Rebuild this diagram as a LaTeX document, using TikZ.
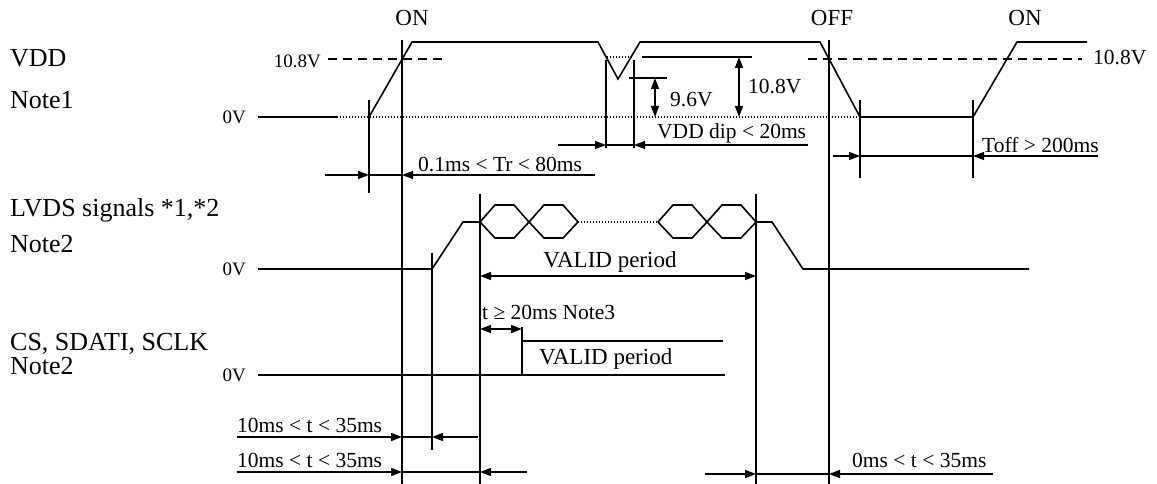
\documentclass[tikz,border=0pt]{standalone}
\usepackage{fontspec}
\setmainfont{Liberation Serif}
\usetikzlibrary{arrows.meta}
\tikzset{
  wave/.style={line width=1.6pt, line join=miter},
  mark line/.style={line width=1.5pt},
  dimtip/.style={line width=1.5pt, -{Triangle[length=11pt,width=8pt]}},
  ddim/.style={line width=1.5pt, {Triangle[length=11pt,width=8pt]}-{Triangle[length=11pt,width=8pt]}},
  lvl/.style={line width=1.3pt, dash pattern=on 9pt off 6pt},
  dots/.style={line width=1.1pt, dash pattern=on 1.4pt off 1.6pt},
  bigtxt/.style={inner sep=0pt, font=\fontsize{26}{29}\selectfont},
  midtxt/.style={inner sep=0pt, font=\fontsize{23}{26}\selectfont},
  txt/.style={inner sep=0pt, font=\fontsize{21.5}{24}\selectfont},
  smalltxt/.style={inner sep=0pt, font=\fontsize{19}{22}\selectfont}
}
\begin{document}
\begin{tikzpicture}[x=1pt,y=-1pt]  % ------ power sequence -------------------
    \useasboundingbox (0,0) rectangle (1157,484);

    % row labels
    \node[bigtxt, anchor=west] (vdd) at (10,58) {VDD};
    \node[bigtxt, anchor=west] (vddnote) at (10,100) {Note1};
    \node[bigtxt, anchor=west] (lvds) at (10,210) {LVDS signals *1,*2};
    \node[bigtxt, anchor=west] (lvdsnote) at (10,244) {Note2};
    \node[bigtxt, anchor=west] (cs) at (10,344) {CS, SDATI, SCLK};
    \node[bigtxt, anchor=west] (csnote) at (10,366) {Note2};
    \node[smalltxt, anchor=east] (zvdd) at (246,117) {0V};
    \node[smalltxt, anchor=east] (zlvds) at (246,269) {0V};
    \node[smalltxt, anchor=east] (zcs) at (246,375) {0V};
    \node[smalltxt, anchor=east] (hvdd) at (321,61) {10.8V};
    \node[txt, anchor=west] (hright) at (1093,58) {10.8V};
    \node[midtxt] (on) at (412,18) {ON};
    \node[midtxt] (off) at (832,18) {OFF};
    \node[midtxt] (onb) at (1025,18) {ON};

    % ON / OFF lines and marks
    \draw[mark line] (402,40) -- (402,484);
    \draw[mark line] (829,40) -- (829,484);
    \draw[mark line] (369,100) -- (369,193);
    \draw[mark line] (606,60) -- (606,148);
    \draw[mark line] (634,60) -- (634,148);
    \draw[mark line] (860,100) -- (860,178);
    \draw[mark line] (973,100) -- (973,178);
    \draw[mark line] (432,253) -- (432,450);
    \draw[mark line] (480,194) -- (480,484);
    \draw[mark line] (756,194) -- (756,484);

    % VDD
    \draw[lvl] (328,59) -- (445,59);
    \draw[lvl] (808,59) -- (1082,59);
    \draw[dots] (337,117) -- (860,117);
    \draw[dots] (607,57) -- (633,57);
    \draw[wave] (258,117) -- (337,117);
    \draw[wave] (369,117) -- (412,42) -- (598,42) -- (618,79) -- (640,42)
        -- (820,42) -- (860,117) -- (973,117) -- (1017,42) -- (1087,42);
    \draw[mark line] (629,78) -- (667,78);
    \draw[mark line] (642,57) -- (752,57);
    \draw[ddim] (655,78) -- (655,117);
    \draw[ddim] (739,57) -- (739,117);
    \node[txt, anchor=west] (dipv) at (670,100) {9.6V};
    \node[txt, anchor=west] (dipf) at (748,87) {10.8V};
    \node[txt, anchor=west] (dipt) at (657,133) {VDD dip < 20ms};

    % VDD timings
    \coordinate (TrA) at (369,175); \coordinate (TrB) at (402,175);
    \draw[dimtip] (325,175) -- (TrA);
    \draw[mark line] (TrA) -- (TrB);
    \draw[dimtip] (595,175) -- (TrB);
    \node[txt, anchor=west] (tr) at (418,165) {0.1ms < Tr < 80ms};
    \coordinate (DipA) at (606,145); \coordinate (DipB) at (634,145);
    \draw[dimtip] (558,145) -- (DipA);
    \draw[mark line] (DipA) -- (DipB);
    \draw[dimtip] (808,145) -- (DipB);
    \coordinate (ToffA) at (860,156); \coordinate (ToffB) at (973,156);
    \draw[dimtip] (833,156) -- (ToffA);
    \draw[mark line] (ToffA) -- (ToffB);
    \draw[dimtip] (1098,156) -- (ToffB);
    \node[txt, anchor=west] (toff) at (982,145) {Toff > 200ms};

    % LVDS
    \draw[wave] (258,269) -- (432,269) -- (463,222) -- (480,222);
    \foreach \x in {480,529,658,707}
      \draw[wave] (\x,222) -- (\x+15,205) -- (\x+34,205) -- (\x+49,222)
                  (\x,222) -- (\x+15,238) -- (\x+34,238) -- (\x+49,222);
    \draw[dots] (578,222) -- (658,222);
    \draw[wave] (756,222) -- (772,222) -- (803,269) -- (1029,269);
    \coordinate (VaA) at (480,276); \coordinate (VaB) at (756,276);
    \draw[ddim] (VaA) -- (VaB);
    \node[midtxt] (valid) at (610,262) {VALID period};
    \node[txt, anchor=west] (tmin) at (482,312) {t ≥ 20ms Note3};

    % CS, SDATI, SCLK
    \draw[wave] (258,375) -- (725,375);
    \draw[wave] (522,375) -- (522,327);
    \draw[wave] (522,341) -- (723,341);
    \draw[ddim] (480,329) -- (522,329);
    \node[midtxt, anchor=west] (csvalid) at (539,359) {VALID period};

    % bottom timings
    \coordinate (SaA) at (402,437); \coordinate (SaB) at (432,437);
    \draw[dimtip] (237,437) -- (SaA);
    \draw[mark line] (SaA) -- (SaB);
    \draw[dimtip] (478,437) -- (SaB);
    \node[txt, anchor=west] (ta) at (237,425) {10ms < t < 35ms};
    \coordinate (SbA) at (402,472); \coordinate (SbB) at (480,472);
    \draw[dimtip] (237,472) -- (SbA);
    \draw[mark line] (SbA) -- (SbB);
    \draw[dimtip] (527,472) -- (SbB);
    \node[txt, anchor=west] (tb) at (237,460) {10ms < t < 35ms};
    \coordinate (ScA) at (756,474); \coordinate (ScB) at (829,474);
    \draw[dimtip] (705,474) -- (ScA);
    \draw[mark line] (ScA) -- (ScB);
    \draw[dimtip] (993,474) -- (ScB);
    \node[txt, anchor=west] (tc) at (852,460) {0ms < t < 35ms};
\end{tikzpicture}
\end{document}
